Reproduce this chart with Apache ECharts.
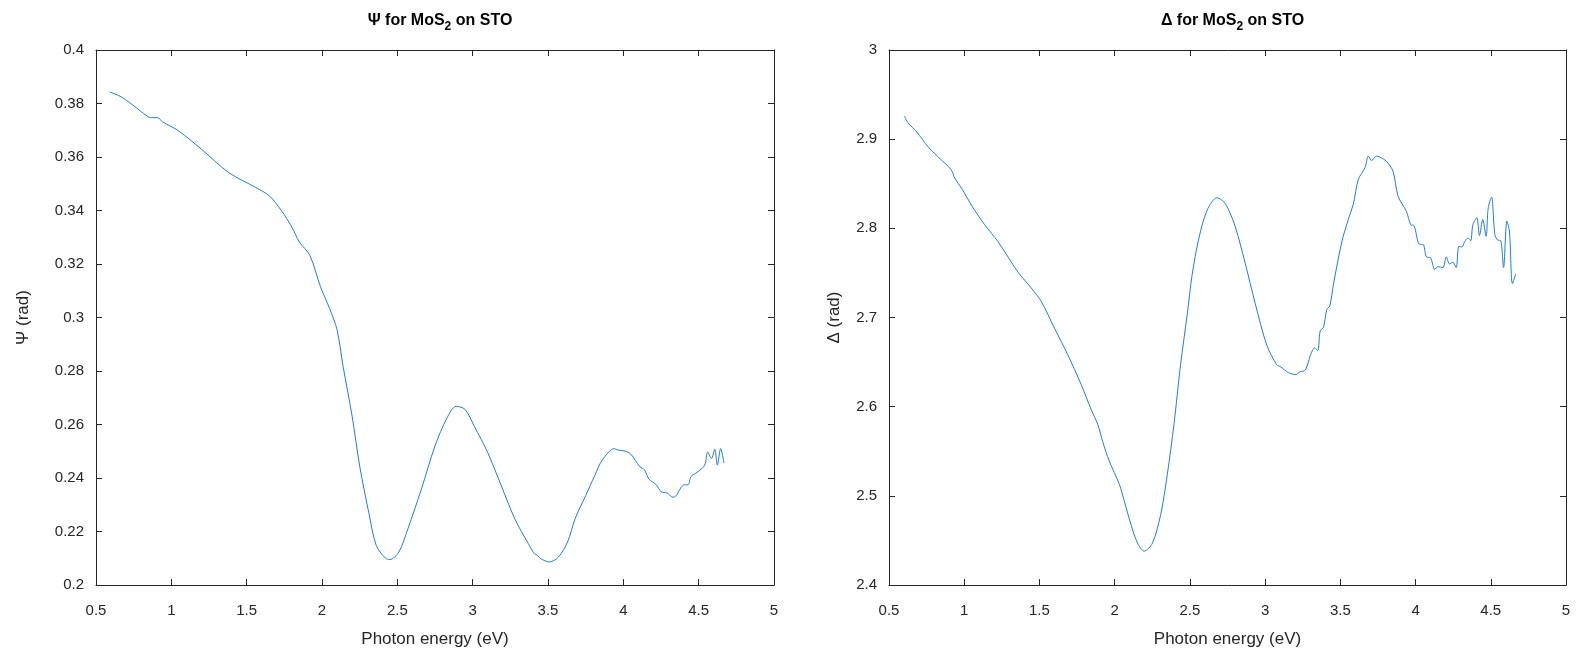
<!DOCTYPE html>
<html>
<head>
<meta charset="utf-8">
<script src="https://cdn.jsdelivr.net/npm/echarts@6/dist/echarts.min.js"></script>
<style>
html,body{margin:0;padding:0;background:#fff;}
#c{width:1583px;height:660px;}
</style>
</head>
<body>
<div id="c"></div>
<script>
// ---- Data: Psi (rad) vs photon energy (eV)
const psiX = [0.59,0.66,0.74,0.84,0.87,0.91,0.94,1.05,1.2,1.38,1.56,1.65,1.73,1.80,1.85,1.92,1.99,2.05,2.10,2.14,2.20,2.25,2.31,2.36,2.42,2.45,2.51,2.57,2.66,2.75,2.83,2.89,2.95,3.01,3.10,3.19,3.28,3.37,3.41,3.43,3.45,3.51,3.57,3.63,3.68,3.75,3.81,3.86,3.94,3.96,4.01,4.05,4.11,4.14,4.17,4.22,4.25,4.29,4.33,4.35,4.40,4.43,4.45,4.49,4.54,4.56,4.585,4.607,4.624,4.646,4.668];
const psiY = [0.3843,0.3827,0.3796,0.3753,0.3747,0.3747,0.3732,0.3697,0.3629,0.3542,0.3486,0.3455,0.3400,0.3338,0.3282,0.3232,0.3115,0.3034,0.2954,0.2817,0.2631,0.2445,0.2272,0.2148,0.2101,0.2095,0.2123,0.2210,0.2359,0.2520,0.2625,0.2668,0.2656,0.2594,0.2495,0.2371,0.2247,0.2154,0.2117,0.2111,0.2099,0.2086,0.2105,0.2161,0.2248,0.2334,0.2409,0.2467,0.2510,0.2505,0.2501,0.2489,0.2442,0.2431,0.2396,0.2374,0.2349,0.2344,0.2328,0.2334,0.2374,0.2375,0.2406,0.2421,0.2448,0.2497,0.2473,0.2507,0.2448,0.2510,0.2456];

// ---- Data: Delta (rad) vs photon energy (eV)
const deltaX = [0.603,0.625,0.685,0.762,0.84,0.912,0.938,0.982,1.059,1.136,1.225,1.357,1.446,1.512,1.60,1.689,1.777,1.843,1.888,1.92,1.964,2.031,2.064,2.108,2.152,2.196,2.251,2.306,2.35,2.394,2.438,2.482,2.515,2.56,2.615,2.681,2.725,2.758,2.802,2.868,2.934,3.011,3.077,3.10,3.157,3.205,3.23,3.267,3.30,3.329,3.35,3.366,3.388,3.41,3.43,3.454,3.51,3.553,3.586,3.62,3.664,3.686,3.708,3.74,3.762,3.807,3.85,3.884,3.939,3.968,3.99,4.027,4.05,4.072,4.10,4.127,4.149,4.182,4.204,4.226,4.248,4.27,4.288,4.308,4.326,4.348,4.366,4.381,4.407,4.425,4.447,4.469,4.483,4.505,4.527,4.545,4.567,4.585,4.607,4.624,4.644,4.666];
const deltaY = [2.926,2.9186,2.908,2.891,2.878,2.866,2.856,2.845,2.823,2.804,2.785,2.751,2.733,2.718,2.688,2.658,2.625,2.597,2.580,2.561,2.539,2.513,2.494,2.468,2.447,2.438,2.447,2.479,2.524,2.58,2.647,2.703,2.748,2.789,2.8205,2.8343,2.8298,2.8205,2.8018,2.7607,2.7159,2.669,2.647,2.645,2.638,2.636,2.639,2.641,2.657,2.666,2.663,2.685,2.689,2.709,2.713,2.737,2.785,2.81,2.827,2.855,2.868,2.881,2.876,2.881,2.88,2.875,2.864,2.836,2.819,2.804,2.803,2.782,2.782,2.768,2.767,2.754,2.757,2.756,2.768,2.760,2.762,2.756,2.78,2.779,2.785,2.789,2.786,2.804,2.812,2.792,2.810,2.791,2.823,2.835,2.793,2.787,2.786,2.756,2.808,2.797,2.738,2.749];

// ---- Axis settings
const xMin = 0.5, xMax = 5, xStep = 0.5;
const psiMin = 0.2, psiMax = 0.4, psiStep = 0.02;
const deltaMin = 2.4, deltaMax = 3, deltaStep = 0.1;

const titles = ['{t|Ψ for MoS}{s|2}{t| on STO}', '{t|Δ for MoS}{s|2}{t| on STO}'];
const yNames = ['Ψ (rad)', 'Δ (rad)'];
const xName = 'Photon energy (eV)';

const FONT = "'Liberation Sans', Arial, Helvetica, sans-serif";
const AX = '#262626';
const LINE = '#1f7fcc';

const grids = [
  {left: 96, top: 50, width: 678, height: 535},
  {left: 889, top: 50, width: 677, height: 535}
];

function xAxes(gi) {
  return [
    {
      type: 'value', gridIndex: gi, position: 'bottom',
      min: xMin, max: xMax, interval: xStep,
      name: xName, nameLocation: 'middle', nameGap: 46,
      nameTextStyle: {fontFamily: FONT, fontSize: 17, color: AX},
      axisLine: {show: true, lineStyle: {color: AX, width: 1}},
      axisTick: {show: true, inside: true, length: 6, lineStyle: {color: AX}},
      axisLabel: {fontFamily: FONT, fontSize: 15, color: AX, margin: 18},
      splitLine: {show: false}
    },
    {
      type: 'value', gridIndex: gi, position: 'top',
      min: xMin, max: xMax, interval: xStep,
      axisLine: {show: true, lineStyle: {color: AX, width: 1}},
      axisTick: {show: true, inside: true, length: 6, lineStyle: {color: AX}},
      axisLabel: {show: false},
      splitLine: {show: false}
    }
  ];
}
function yAxes(gi, mn, mx, st, nm, gap) {
  return [
    {
      type: 'value', gridIndex: gi, position: 'left',
      min: mn, max: mx, interval: st,
      name: nm, nameLocation: 'middle', nameGap: gap,
      nameTextStyle: {fontFamily: FONT, fontSize: 17, color: AX},
      axisLine: {show: true, lineStyle: {color: AX, width: 1}},
      axisTick: {show: true, inside: true, length: 6, lineStyle: {color: AX}},
      axisLabel: {fontFamily: FONT, fontSize: 15, color: AX, margin: 12},
      splitLine: {show: false}
    },
    {
      type: 'value', gridIndex: gi, position: 'right',
      min: mn, max: mx, interval: st,
      axisLine: {show: true, lineStyle: {color: AX, width: 1}},
      axisTick: {show: true, inside: true, length: 6, lineStyle: {color: AX}},
      axisLabel: {show: false},
      splitLine: {show: false}
    }
  ];
}

const richTitle = {
  t: {fontFamily: FONT, fontSize: 16, fontWeight: 'bold', color: '#000'},
  s: {fontFamily: FONT, fontSize: 12, fontWeight: 'bold', color: '#000', padding: [12, 0, 0, 0]}
};

const chart = echarts.init(document.getElementById('c'), null, {renderer: 'canvas'});
chart.setOption({
  backgroundColor: '#fff',
  animation: false,
  title: grids.map((g, i) => ({
    text: titles[i],
    left: g.left + g.width / 2,
    textAlign: 'center',
    top: 4,
    textStyle: {rich: richTitle}
  })),
  grid: grids,
  xAxis: [...xAxes(0), ...xAxes(1)],
  yAxis: [...yAxes(0, psiMin, psiMax, psiStep, yNames[0], 64), ...yAxes(1, deltaMin, deltaMax, deltaStep, yNames[1], 46)],
  series: [
    {
      type: 'line', xAxisIndex: 0, yAxisIndex: 0,
      data: psiX.map((x, i) => [x, psiY[i]]),
      showSymbol: false, symbol: 'none', smooth: 0.3,
      lineStyle: {color: LINE, width: 1}
    },
    {
      type: 'line', xAxisIndex: 2, yAxisIndex: 2,
      data: deltaX.map((x, i) => [x, deltaY[i]]),
      showSymbol: false, symbol: 'none', smooth: 0.3,
      lineStyle: {color: LINE, width: 1}
    }
  ]
});
</script>
</body>
</html>
